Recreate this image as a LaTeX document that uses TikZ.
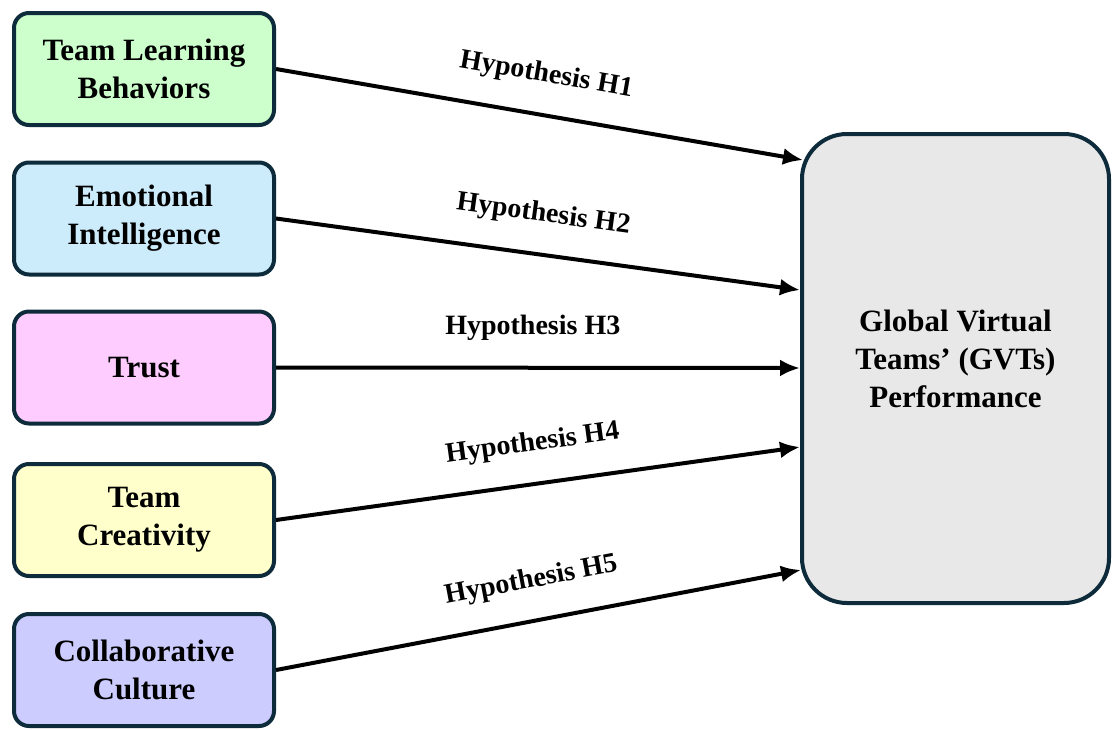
\documentclass[tikz,border=0pt]{standalone}
\usepackage{fontspec}
\setmainfont{Liberation Serif}
\usetikzlibrary{arrows.meta,calc}
\definecolor{bordc}{HTML}{0D2B3A}
\definecolor{cgreen}{HTML}{CCFFCC}
\definecolor{cblue}{HTML}{CCEBFB}
\definecolor{cpink}{HTML}{FFCCFF}
\definecolor{cyellow}{HTML}{FFFFCC}
\definecolor{cviolet}{HTML}{CCCCFF}
\definecolor{cgrey}{HTML}{E8E8E8}
\tikzset{
  srcbox/.style={draw=bordc, line width=4pt, rounded corners=15pt, minimum width=260pt, minimum height=112pt, align=center, font=\fontsize{31}{38}\selectfont\bfseries, inner sep=0pt},
  bigbox/.style={draw=bordc, fill=cgrey, line width=4pt, rounded corners=45pt, minimum width=307pt, minimum height=469pt, inner sep=0pt},
  bigtext/.style={align=center, font=\fontsize{31}{38}\selectfont\bfseries, inner sep=0pt},
  hyparrow/.style={line width=4pt, -{Latex[length=20pt,width=17pt]}},
  hyplabel/.style={font=\fontsize{28}{30}\selectfont\bfseries, sloped, above=25pt, pos=0.5, inner sep=0pt}
}
\begin{document}
\begin{tikzpicture}[x=1pt,y=-1pt]
\useasboundingbox (0,0) rectangle (1113,729);
\node[srcbox, fill=cgreen] (b1) at (144,69) {Team Learning\\Behaviors};
\node[srcbox, fill=cblue] (b2) at (144,218.5) {Emotional\\Intelligence};
\node[srcbox, fill=cpink] (b3) at (144,367.5) {Trust};
\node[srcbox, fill=cyellow] (b4) at (144,520) {Team\\Creativity};
\node[srcbox, fill=cviolet] (b5) at (144,670) {Collaborative\\Culture};
\node[bigbox] (g) at (955.5,368.5) {};
\node[bigtext] (gt) at ($(g.center)+(0,-10)$) {Global Virtual\\Teams' (GVTs)\\Performance};
\coordinate (e1) at ($(g.west)+(3,-208.5)$);
\coordinate (e2) at ($(g.west)+(0,-78.5)$);
\coordinate (e3) at ($(g.west)+(0,-0.5)$);
\coordinate (e4) at ($(g.west)+(0,78.5)$);
\coordinate (e5) at ($(g.west)+(1,201.5)$);
\draw[hyparrow] (b1.east) -- node[hyplabel]{Hypothesis H1} (e1);
\draw[hyparrow] (b2.east) -- node[hyplabel]{Hypothesis H2} (e2);
\draw[hyparrow] (b3.east) -- node[hyplabel, pos=0.49]{Hypothesis H3} (e3);
\draw[hyparrow] (b4.east) -- node[hyplabel]{Hypothesis H4} (e4);
\draw[hyparrow] (b5.east) -- node[hyplabel]{Hypothesis H5} (e5);
\end{tikzpicture}
\end{document}
